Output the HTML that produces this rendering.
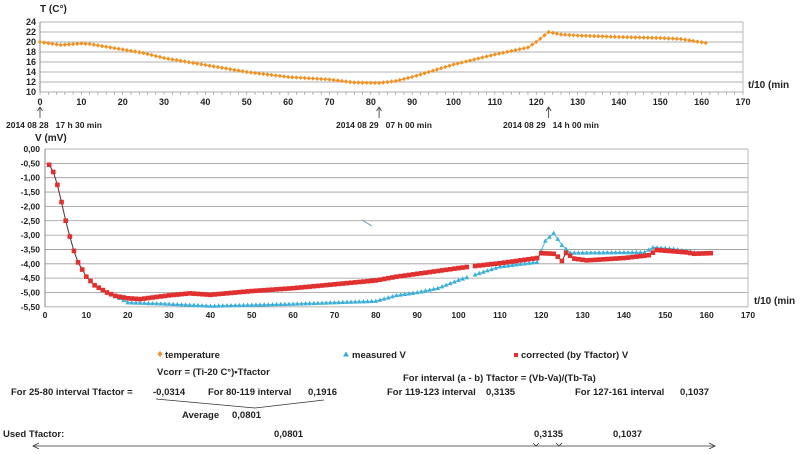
<!DOCTYPE html><html><head><meta charset="utf-8"><style>
body{margin:0;background:#fff;width:800px;height:449px;overflow:hidden;font-family:"Liberation Sans",sans-serif}
svg text{font-family:"Liberation Sans",sans-serif;font-weight:bold;fill:#222}
</style></head><body>
<svg id="s" width="800" height="449" xmlns="http://www.w3.org/2000/svg"></svg>
<script>
const s=document.getElementById('s');let h='';
function interp(pts,x){for(let i=0;i<pts.length-1;i++){if(x>=pts[i][0]&&x<=pts[i+1][0]){const t=(x-pts[i][0])/(pts[i+1][0]-pts[i][0]);return pts[i][1]+t*(pts[i+1][1]-pts[i][1]);}}return pts[pts.length-1][1];}
const X0=40,XS=(743-40)/170;
for(let v=10;v<=24;v+=2){const y=92-(v-10)*5;h+=`<line x1="${X0}" y1="${y}" x2="743" y2="${y}" stroke="#999" stroke-width="0.8"/><text x="${X0-4}" y="${y+3}" font-size="9" text-anchor="end">${v}</text>`;}
h+=`<line x1="${X0}" y1="22" x2="${X0}" y2="92" stroke="#888"/><line x1="743" y1="22" x2="743" y2="92" stroke="#bbb"/>`;
for(let v=0;v<=170;v+=10){const x=X0+v*XS;h+=`<text x="${x}" y="105" font-size="9" text-anchor="middle">${v}</text>`;}
for(let v=0;v<=170;v+=2){const x=X0+v*XS;h+=`<line x1="${x}" y1="92" x2="${x}" y2="95" stroke="#888" stroke-width="0.6"/>`;}
const T=[[0,20],[5,19.4],[10,19.7],[12,19.6],[20,18.5],[25,17.8],[30,16.8],[40,15.4],[50,14],[60,13],[70,12.5],[76,11.9],[82,11.8],[86,12.2],[90,13],[100,15.5],[110,17.5],[118,18.9],[120,20],[123,22],[126,21.5],[130,21.3],[140,21],[150,20.8],[155,20.6],[161,19.8]];
let p='';for(let x=0;x<=161;x++){const y=92-(interp(T,x)-10)*5;p+=(x?'L':'M')+(X0+x*XS).toFixed(1)+','+y.toFixed(1);}
h+=`<path d="${p}" fill="none" stroke="#f0a030" stroke-width="1"/>`;
for(let x=0;x<=161;x++){const cx=X0+x*XS,cy=92-(interp(T,x)-10)*5;h+=`<path d="M${cx},${cy-2.3}L${cx+2},${cy}L${cx},${cy+2.3}L${cx-2},${cy}Z" fill="#f39020"/>`;}
h+=`<text x="40" y="12" font-size="10">T (C°)</text><text x="748" y="88" font-size="10">t/10 (min</text>`;
[[0,'2014 08 28   17 h 30 min',6],[82,'2014 08 29   07 h 00 min',336],[123,'2014 08 29   14 h 00 min',503]].forEach(a=>{const x=X0+a[0]*XS;h+=`<line x1="${x}" y1="108" x2="${x}" y2="118" stroke="#333" stroke-width="0.8"/><path d="M${x-2.5},111L${x},107L${x+2.5},111" fill="none" stroke="#333" stroke-width="0.8"/><text x="${a[2]}" y="128" font-size="8.5" xml:space="preserve">${a[1]}</text>`;});
const VX=45,VS=(748-45)/170,V0=149,VK=28.7;
const vy=v=>V0-v*VK;
for(let i=0;i<=11;i++){const v=-i*0.5,y=vy(v);h+=`<line x1="${VX}" y1="${y}" x2="748" y2="${y}" stroke="#999" stroke-width="0.8"/><text x="${VX-5}" y="${y+3}" font-size="8.5" text-anchor="end">${v.toFixed(2).replace('.',',').replace('-0,00','0,00')}</text>`;}
h+=`<line x1="${VX}" y1="149" x2="${VX}" y2="307" stroke="#888"/><line x1="748" y1="149" x2="748" y2="307" stroke="#bbb"/>`;
for(let v=0;v<=170;v+=10){const x=VX+v*VS;h+=`<text x="${x}" y="318" font-size="8.5" text-anchor="middle" font-weight="normal">${v}</text>`;}
h+=`<text x="35" y="141" font-size="10">V (mV)</text><text x="754" y="304" font-size="10">t/10 (min</text>`;
const head=[[1,-0.55],[2,-0.8],[3,-1.25],[4,-1.85],[5,-2.5],[6,-3.05],[7,-3.55],[8,-3.95],[9,-4.2],[10,-4.45],[12,-4.75],[15,-5.0],[17,-5.12]];
const M=head.concat([[20,-5.35],[30,-5.4],[40,-5.47],[60,-5.4],[80,-5.3],[85,-5.1],[90,-5.0],[95,-4.85],[100,-4.57],[105,-4.33],[110,-4.1],[119,-3.94],[120,-3.55],[121,-3.2],[123,-2.93],[125,-3.35],[127,-3.62],[145,-3.6],[147,-3.43],[152,-3.48],[158,-3.62],[161,-3.65]]);
const C=head.concat([[20,-5.2],[23,-5.23],[30,-5.1],[35,-5.03],[40,-5.08],[50,-4.95],[60,-4.85],[80,-4.58],[85,-4.45],[100,-4.15],[105,-4.06],[110,-3.98],[119,-3.8],[120,-3.63],[123,-3.65],[124,-3.75],[125,-3.9],[126,-3.62],[128,-3.82],[131,-3.88],[140,-3.8],[146,-3.7],[148,-3.52],[155,-3.6],[157,-3.65],[161,-3.63]]);
function line(d,col){let p='',pen=false;for(let x=1;x<=161;x++){if(x==103){pen=false;continue;}const px=VX+x*VS,py=vy(interp(d,x));p+=(pen?'L':'M')+px.toFixed(1)+','+py.toFixed(1);pen=true;}return `<path d="${p}" fill="none" stroke="${col}" stroke-width="1"/>`;}
h+=line(M,'#4ab8d8');h+=line(C,'#7a3030');
for(let x=1;x<=161;x++){if(x==103)continue;const cx=VX+x*VS,cy=vy(interp(M,x));h+=`<path d="M${cx},${cy-2.5}L${cx+2.3},${cy+1.8}L${cx-2.3},${cy+1.8}Z" fill="#3aaed8"/>`;}
for(let x=1;x<=161;x++){if(x==103)continue;const cx=VX+x*VS,cy=vy(interp(C,x));h+=`<rect x="${cx-2.3}" y="${cy-2.3}" width="4.6" height="4.6" fill="#e03030"/>`;}
h+=`<line x1="362" y1="220" x2="372" y2="226" stroke="#6699aa" stroke-width="1"/>`;
const F=9.5;
h+=`<path d="M160,351L162.5,354L160,357L157.5,354Z" fill="#f39020"/><text x="165" y="358" font-size="${F}">temperature</text>`;
h+=`<path d="M346,351.5L349,356.5L343,356.5Z" fill="#3aaed8"/><text x="352" y="358" font-size="${F}">measured V</text>`;
h+=`<rect x="514" y="353" width="4" height="4" fill="#e03030"/><text x="521" y="358" font-size="${F}">corrected (by Tfactor) V</text>`;
h+=`<text x="157" y="375" font-size="${F}">Vcorr = (Ti-20 C°)•Tfactor</text>`;
h+=`<text x="403" y="381" font-size="${F}">For interval (a - b) Tfactor = (Vb-Va)/(Tb-Ta)</text>`;
const r=395;
h+=`<text x="11" y="${r}" font-size="${F}">For 25-80 interval Tfactor =</text><text x="153" y="${r}" font-size="${F}">-0,0314</text><text x="208" y="${r}" font-size="${F}">For 80-119 interval</text><text x="308" y="${r}" font-size="${F}">0,1916</text>`;
h+=`<text x="387" y="${r}" font-size="${F}">For 119-123 interval</text><text x="486" y="${r}" font-size="${F}">0,3135</text><text x="575" y="${r}" font-size="${F}">For 127-161 interval</text><text x="680" y="${r}" font-size="${F}">0,1037</text>`;
h+=`<line x1="156" y1="399" x2="255" y2="408" stroke="#333" stroke-width="0.8"/><line x1="255" y1="408" x2="324" y2="400" stroke="#333" stroke-width="0.8"/>`;
h+=`<text x="182" y="418" font-size="${F}">Average</text><text x="232" y="418" font-size="${F}">0,0801</text>`;
h+=`<text x="3" y="437" font-size="${F}">Used Tfactor:</text><text x="274" y="437" font-size="${F}">0,0801</text><text x="534" y="437" font-size="${F}">0,3135</text><text x="613" y="437" font-size="${F}">0,1037</text>`;
h+=`<line x1="33" y1="446" x2="715" y2="446" stroke="#333" stroke-width="0.8"/><path d="M39,443L33,446L39,449" fill="none" stroke="#333" stroke-width="0.8"/><path d="M709,443L715,446L709,449" fill="none" stroke="#333" stroke-width="0.8"/>`;
h+=`<path d="M533,443L536,446L539,443M556,443L559,446L562,443" fill="none" stroke="#333" stroke-width="0.8"/>`;
s.innerHTML=h;
</script></body></html>
